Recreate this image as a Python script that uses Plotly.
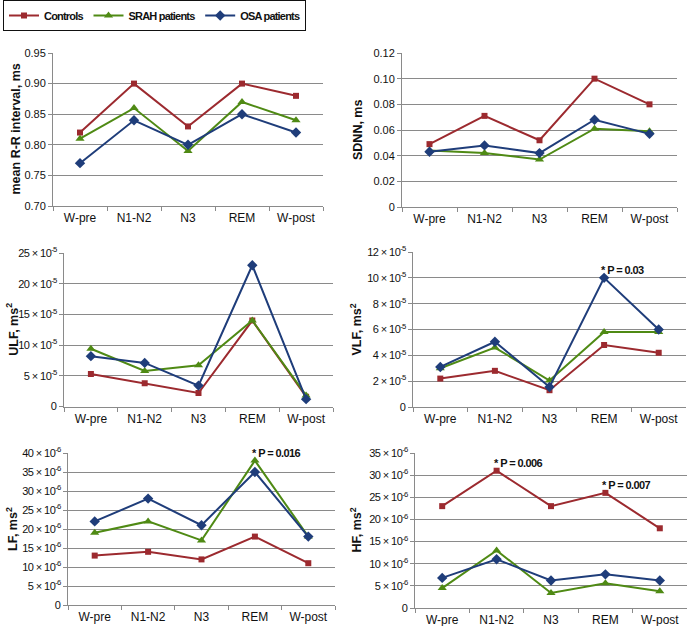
import plotly.graph_objects as go

stages = ["W-pre", "N1-N2", "N3", "REM", "W-post"]
groups = ["Controls", "SRAH patients", "OSA patients"]

# mean R-R interval, ms
rr_controls = [0.82, 0.90, 0.83, 0.90, 0.88]
rr_srah = [0.81, 0.86, 0.79, 0.87, 0.84]
rr_osa = [0.77, 0.84, 0.80, 0.85, 0.82]

# SDNN, ms
sdnn_controls = [0.049, 0.071, 0.052, 0.100, 0.080]
sdnn_srah = [0.044, 0.042, 0.037, 0.061, 0.059]
sdnn_osa = [0.043, 0.048, 0.042, 0.068, 0.057]

# ULF, ms^2 (x 10^-5)
ulf_controls = [5.3, 3.8, 2.2, 14.0, 1.6]
ulf_srah = [9.4, 5.8, 6.7, 14.0, 1.8]
ulf_osa = [8.2, 7.1, 3.4, 23.0, 1.2]

# VLF, ms^2 (x 10^-5)
vlf_controls = [2.2, 2.8, 1.3, 4.8, 4.2]
vlf_srah = [3.0, 4.6, 2.05, 5.8, 5.8]
vlf_osa = [3.1, 5.05, 1.55, 10.0, 6.0]

# LF, ms^2 (x 10^-6)
lf_controls = [13, 14, 12, 18, 11]
lf_srah = [19, 22, 17, 38, 18]
lf_osa = [22, 28, 21, 35, 18]

# HF, ms^2 (x 10^-6)
hf_controls = [23, 31, 23, 26, 18]
hf_srah = [4.5, 13, 3.4, 5.6, 3.8]
hf_osa = [6.8, 11, 6.2, 7.6, 6.2]

rr_ticks = [0.70, 0.75, 0.80, 0.85, 0.90, 0.95]
sdnn_ticks = [0, 0.02, 0.04, 0.06, 0.08, 0.10, 0.12]
ulf_ticks = [0, 5, 10, 15, 20, 25]
vlf_ticks = [0, 2, 4, 6, 8, 10, 12]
lf_ticks = [0, 5, 10, 15, 20, 25, 30, 35, 40]
hf_ticks = [0, 5, 10, 15, 20, 25, 30, 35]

colors = ["#9c2a2f", "#4f8a14", "#1f3d7a"]
symbols = ["square", "triangle-up", "diamond"]
msizes = [6, 8, 8]

FONT = "Liberation Sans, Arial, sans-serif"

W, H = 687, 626


def tight(text, ls):
    return "<span style='letter-spacing:%spx'>%s</span>" % (ls, text)


def px_dom_x(a, b):
    return [a / W, min(b / W, 1.0)]


def px_dom_y(top, bottom):
    return [1 - bottom / H, 1 - top / H]


def sci(vals, exp):
    return ["0"] + [tight("%d × 10<sup>%d</sup>" % (t, exp), -0.6) for t in vals[1:]]


panels = [
    dict(series=[rr_controls, rr_srah, rr_osa], ticks=rr_ticks,
         labels=["%.2f" % t for t in rr_ticks], rng=[0.70, 0.95],
         title="mean R-R interval, ms", dx=px_dom_x(53, 323), dy=px_dom_y(53, 206), tx=15),
    dict(series=[sdnn_controls, sdnn_srah, sdnn_osa], ticks=sdnn_ticks,
         labels=["0"] + ["%.2f" % t for t in sdnn_ticks[1:]], rng=[0, 0.12],
         title="SDNN, ms", dx=px_dom_x(402, 677), dy=px_dom_y(53, 207), tx=358),
    dict(series=[ulf_controls, ulf_srah, ulf_osa], ticks=ulf_ticks,
         labels=sci(ulf_ticks, -5), rng=[0, 25],
         title="ULF, ms<sup>2</sup>", dx=px_dom_x(64, 333), dy=px_dom_y(253, 406.5), tx=12),
    dict(series=[vlf_controls, vlf_srah, vlf_osa], ticks=vlf_ticks,
         labels=sci(vlf_ticks, -5), rng=[0, 12],
         title="VLF, ms<sup>2</sup>", dx=px_dom_x(413, 686), dy=px_dom_y(252, 407), tx=355),
    dict(series=[lf_controls, lf_srah, lf_osa], ticks=lf_ticks,
         labels=sci(lf_ticks, -6), rng=[0, 40],
         title="LF, ms<sup>2</sup>", dx=px_dom_x(68, 335), dy=px_dom_y(453, 605), tx=12),
    dict(series=[hf_controls, hf_srah, hf_osa], ticks=hf_ticks,
         labels=sci(hf_ticks, -6), rng=[0, 35],
         title="HF, ms<sup>2</sup>", dx=px_dom_x(415, 687), dy=px_dom_y(453, 608), tx=355),
]

fig = go.Figure()
annotations = []
for i, p in enumerate(panels):
    n = "" if i == 0 else str(i + 1)
    xa, ya = "x" + n, "y" + n
    for g, vals in enumerate(p["series"]):
        fig.add_trace(go.Scatter(
            x=stages, y=vals, name=tight(groups[g], -0.8), mode="lines+markers",
            line=dict(color=colors[g], width=2),
            marker=dict(symbol=symbols[g], size=msizes[g], color=colors[g]),
            xaxis=xa, yaxis=ya, showlegend=(i == 0),
        ))
    fig.layout["xaxis" + n] = dict(
        domain=p["dx"], anchor=ya, type="category", range=[-0.5, 4.5],
        showgrid=False, showline=True, linecolor="#8a8a8a", linewidth=1,
        ticks="outside", tickson="boundaries", ticklen=4, tickcolor="#8a8a8a",
        tickfont=dict(family=FONT, size=12, color="#111"), fixedrange=True,
        automargin=False, ticklabelstandoff=1,
    )
    fig.layout["yaxis" + n] = dict(
        domain=p["dy"], anchor=xa, range=p["rng"], tickvals=p["ticks"],
        ticktext=p["labels"], showgrid=True, gridcolor="#8a8a8a", gridwidth=1,
        showline=True, linecolor="#8a8a8a", linewidth=1, ticks="outside",
        ticklen=4, tickcolor="#8a8a8a", zeroline=False,
        tickfont=dict(family=FONT, size=11, color="#111"), fixedrange=True,
        automargin=False,
    )
    ymid = (p["dy"][0] + p["dy"][1]) / 2
    annotations.append(dict(
        text="<b>%s</b>" % p["title"], xref="paper", yref="paper",
        x=p["tx"] / W, y=ymid, textangle=-90, showarrow=False,
        font=dict(family=FONT, size=12.5, color="#111"),
        xanchor="center", yanchor="middle",
    ))

# significance marks
sig = [
    ("x4", "y4", "REM", vlf_osa[3], "* P = 0.03"),
    ("x5", "y5", "REM", lf_srah[3], "* P = 0.016"),
    ("x6", "y6", "N1-N2", hf_controls[1], "* P = 0.006"),
    ("x6", "y6", "REM", hf_controls[3], "* P = 0.007"),
]
for xr, yr, xv, yv, t in sig:
    annotations.append(dict(
        text="<b>%s</b>" % tight(t, -0.6), xref=xr, yref=yr, x=xv, y=yv,
        xanchor="left", yanchor="bottom", xshift=-5, yshift=0, showarrow=False,
        font=dict(family=FONT, size=11, color="#111"),
    ))

fig.update_layout(
    width=W, height=H, margin=dict(l=0, r=0, t=0, b=0, autoexpand=False),
    paper_bgcolor="white", plot_bgcolor="white",
    annotations=annotations,
    legend=dict(
        orientation="h", x=3 / W, y=1, xanchor="left", yanchor="top",
        bordercolor="#111", borderwidth=1, bgcolor="white",
        font=dict(family=FONT, size=11, color="#111", weight="bold"),
        itemwidth=30, tracegroupgap=0,
    ),
)

fig.write_html(
    "out.html",
    config={"displayModeBar": False},
    post_script="document.body.style.margin='0';document.body.style.padding='0';",
)
